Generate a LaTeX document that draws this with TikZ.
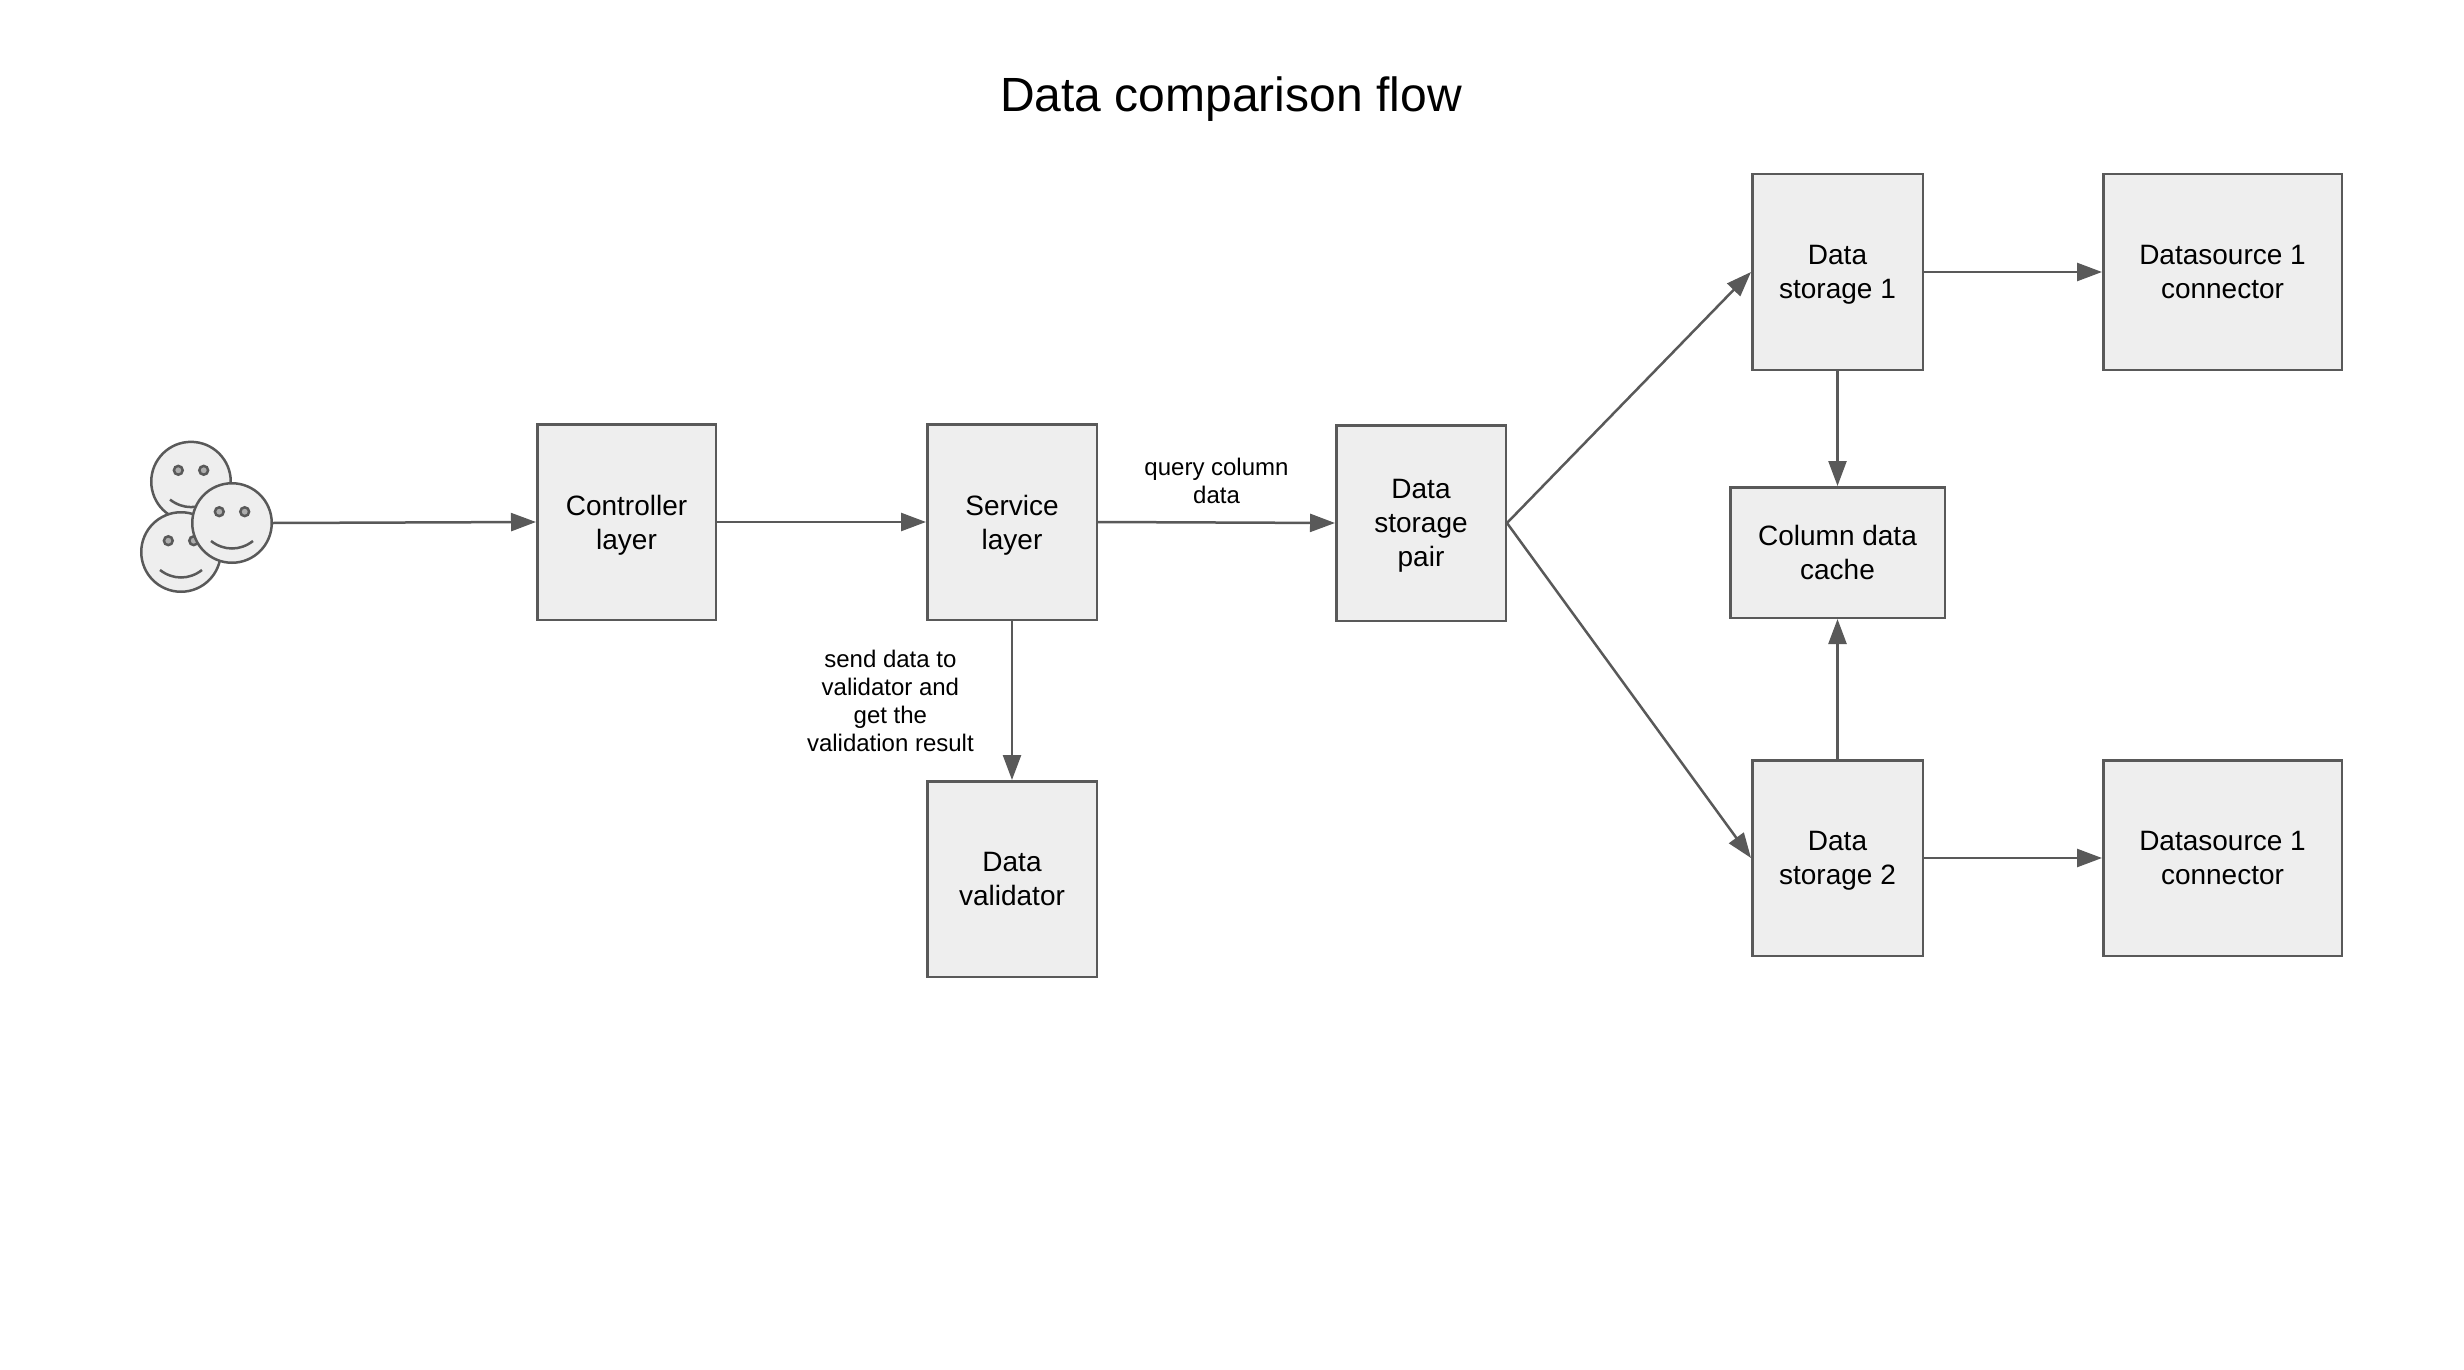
\documentclass[tikz,border=0pt]{standalone}
\usepackage{fontspec}
\setmainfont{Liberation Sans}
\usetikzlibrary{positioning, arrows.meta, calc}
\definecolor{linegray}{HTML}{595959}
\definecolor{boxfill}{HTML}{EEEEEE}
\definecolor{eyefill}{HTML}{ADADAD}

\begin{document}
\begin{tikzpicture}[
    every node/.style={align=center},
    block/.style ={draw=linegray, fill=boxfill, line width=1.25pt, minimum width=84.75pt, minimum height=97.75pt, inner sep=0pt, text depth=-1.2pt, font=\fontsize{14}{17}\selectfont},
    wideblock/.style={block, minimum width=119.25pt},
    note/.style  ={font=\fontsize{12}{14}\selectfont, inner sep=0pt},
    face/.style  ={circle, draw=linegray, fill=boxfill, line width=1.25pt, minimum size=39.75pt, inner sep=0pt},
    arrow/.style ={-{Triangle[length=12.5pt, width=9pt]}, line width=1.25pt, draw=linegray}
]
\useasboundingbox (0,0) rectangle (1232pt,-685pt);

% Title
\node[font=\fontsize{24}{29}\selectfont] (title) at (615.5pt,-49.4pt) {Data comparison flow};

% Users (three overlapping smileys)
\foreach \n/\fx/\fy in {1/95.5/-240.8, 2/90.5/-276, 3/116/-261.5} {
    \node[face] (face\n) at (\fx pt,\fy pt) {};
    \filldraw[draw=linegray, fill=eyefill, line width=1.25pt] ($(face\n)+(-6.35pt,5.65pt)$) circle (2.2pt);
    \filldraw[draw=linegray, fill=eyefill, line width=1.25pt] ($(face\n)+(6.35pt,5.65pt)$) circle (2.2pt);
    \draw[linegray, line width=1.25pt] ($(face\n)+(-10.5pt,-9pt)$) .. controls ($(face\n)+(-4pt,-14pt)$) and ($(face\n)+(4pt,-14pt)$) .. ($(face\n)+(10.5pt,-9pt)$);
}

% Row 1: main chain
\node[block, minimum width=89.25pt] (controller) at (313.25pt,-261pt) {Controller\\layer};
\node[block, right=104.5pt of controller] (service) {Service\\layer};
\node[block, right=118.5pt of service, yshift=-0.5pt] (pair) {Data\\storage\\pair};

% Validator under the service layer
\node[block, below=79.5pt of service] (validator) {Data\\validator};

% Right side: storages, connectors and cache
\node[block, minimum width=85.25pt, right=122pt of pair, yshift=125.5pt] (storage1) {Data\\storage 1};
\node[block, minimum width=85.25pt, right=122pt of pair, yshift=-167.5pt] (storage2) {Data\\storage 2};
\node[wideblock, right=89pt of storage1] (source1) {Datasource 1\\connector};
\node[wideblock, right=89pt of storage2] (source2) {Datasource 1\\connector};
\node[block, minimum width=107.25pt, minimum height=65.25pt, below=57.5pt of storage1] (cache) {Column data\\cache};

% Arrows
\draw[arrow] (face3.east) -- (controller.west);
\draw[arrow] (controller) -- (service);
\draw[arrow] (service.east) -- node[note, above=9pt] (querylabel) {query column\\data} (pair.west);
\draw[arrow] (service) -- node[note, left=18.5pt] (sendlabel) {send data to\\validator and\\get the\\validation result} (validator);
\draw[arrow] (pair.east) -- (storage1.west);
\draw[arrow] (pair.east) -- (storage2.west);
\draw[arrow] (storage1) -- (source1);
\draw[arrow] (storage2) -- (source2);
\draw[arrow] (storage1) -- (cache);
\draw[arrow] (storage2) -- (cache);

\end{tikzpicture}
\end{document}
